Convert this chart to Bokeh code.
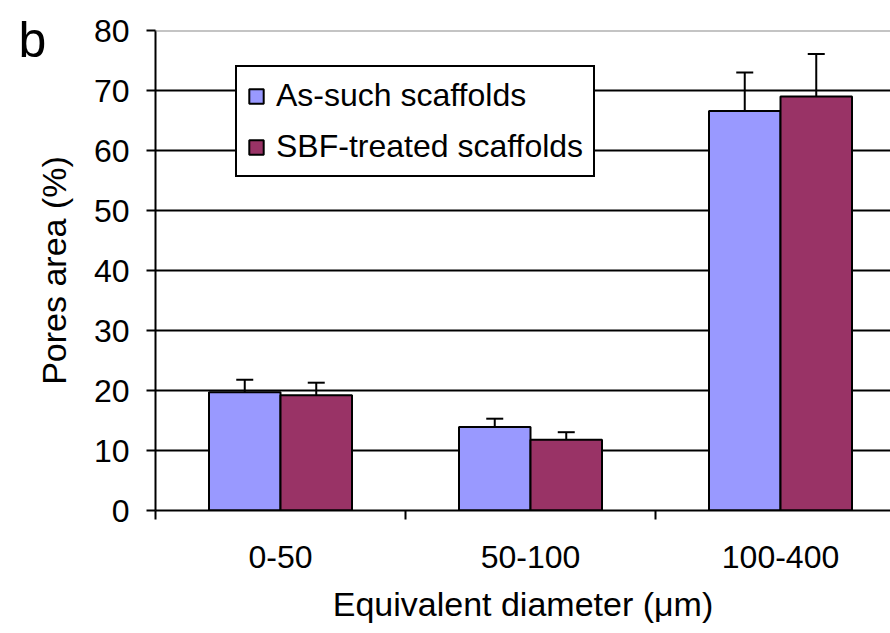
import numpy as np
from bokeh.plotting import figure
from bokeh.models import (Range1d, FixedTicker, Legend, LegendItem, Whisker,
                          TeeHead, Span, Title, ColumnDataSource)
from bokeh.embed import file_html
from bokeh.resources import INLINE

categories = ["0-50", "50-100", "100-400"]
as_such = [19.7, 13.9, 66.6]
as_such_err = [2.1, 1.4, 6.4]
sbf = [19.2, 11.8, 69.0]
sbf_err = [2.1, 1.25, 7.1]
y_ticks = [0, 10, 20, 30, 40, 50, 60, 70, 80]

FONT = "Liberation Sans"
BLUE = "#9999FF"
MAROON = "#993366"

centers = np.arange(len(categories)) + 0.5
bw = 0.286

p = figure(width=890, height=633, x_range=Range1d(0, 2.94), y_range=Range1d(0, 80),
           output_backend="svg", toolbar_location=None, tools="",
           min_border_left=155, min_border_top=30, min_border_right=0,
           min_border_bottom=123)
p.outline_line_color = None
p.background_fill_color = "white"

# panel letter, drawn as a title pulled to the left of the frame and down
p.add_layout(Title(text="b", align="left", offset=-137, standoff=-74,
                   text_font=FONT, text_font_size="50px", text_font_style="normal",
                   text_color="black"), "above")

# grid
p.xgrid.visible = False
p.ygrid.ticker = FixedTicker(ticks=y_ticks[:-1])
p.ygrid.grid_line_color = "black"
p.ygrid.grid_line_width = 2
p.add_layout(Span(location=y_ticks[-1], dimension="width", line_color="#8a8a8a", line_width=2))

# bars
src_a = ColumnDataSource(dict(x=centers - bw / 2, top=as_such,
                              upper=np.array(as_such) + np.array(as_such_err)))
src_s = ColumnDataSource(dict(x=centers + bw / 2, top=sbf,
                              upper=np.array(sbf) + np.array(sbf_err)))
r1 = p.vbar(x="x", top="top", width=bw, source=src_a, fill_color=BLUE,
            line_color="black", line_width=2)
r2 = p.vbar(x="x", top="top", width=bw, source=src_s, fill_color=MAROON,
            line_color="black", line_width=2)

# error bars (upper only)
for src in (src_a, src_s):
    p.add_layout(Whisker(source=src, base="x", lower="top", upper="upper",
                         upper_head=TeeHead(size=17, line_width=2, line_color="black"),
                         lower_head=None, line_width=2, line_color="black"))

# y axis
p.yaxis.ticker = FixedTicker(ticks=y_ticks)
p.yaxis.major_tick_out = 9
p.yaxis.major_tick_in = 0
p.yaxis.minor_tick_line_color = None
p.yaxis.axis_line_width = 2
p.yaxis.major_tick_line_width = 2
p.yaxis.major_label_standoff = 17
p.yaxis.major_label_text_font = FONT
p.yaxis.major_label_text_font_size = "32px"
p.yaxis.major_label_text_color = "black"
p.yaxis.axis_label = "Pores area (%)"
p.yaxis.axis_label_text_font = FONT
p.yaxis.axis_label_text_font_size = "34px"
p.yaxis.axis_label_text_font_style = "normal"
p.yaxis.axis_label_text_color = "black"
p.yaxis.axis_label_standoff = 18

# x axis
p.xaxis.ticker = FixedTicker(ticks=list(centers), minor_ticks=[0, 1, 2, 3])
p.xaxis.major_label_overrides = {float(c): lab for c, lab in zip(centers, categories)}
p.xaxis.major_tick_out = 0
p.xaxis.major_tick_in = 0
p.xaxis.minor_tick_out = 9
p.xaxis.minor_tick_in = 0
p.xaxis.minor_tick_line_width = 2
p.xaxis.minor_tick_line_color = "black"
p.xaxis.axis_line_width = 2
p.xaxis.major_label_standoff = 26
p.xaxis.major_label_text_font = FONT
p.xaxis.major_label_text_font_size = "32px"
p.xaxis.major_label_text_color = "black"
p.xaxis.axis_label = "Equivalent diameter (\u03bcm)"
p.xaxis.axis_label_text_font = FONT
p.xaxis.axis_label_text_font_size = "34px"
p.xaxis.axis_label_text_font_style = "normal"
p.xaxis.axis_label_text_color = "black"
p.xaxis.axis_label_standoff = 14

legend = Legend(items=[LegendItem(label="As-such scaffolds", renderers=[r1]),
                       LegendItem(label="SBF-treated scaffolds", renderers=[r2])],
                location=(80, 333), glyph_width=18, glyph_height=18,
                label_text_font=FONT, label_text_font_size="32px",
                label_text_color="black",
                spacing=14, padding=10, label_standoff=11,
                border_line_color="black", border_line_width=2, border_line_alpha=1,
                background_fill_color="white", background_fill_alpha=1)
p.add_layout(legend)

open("out.html", "w").write(file_html(p, INLINE))
